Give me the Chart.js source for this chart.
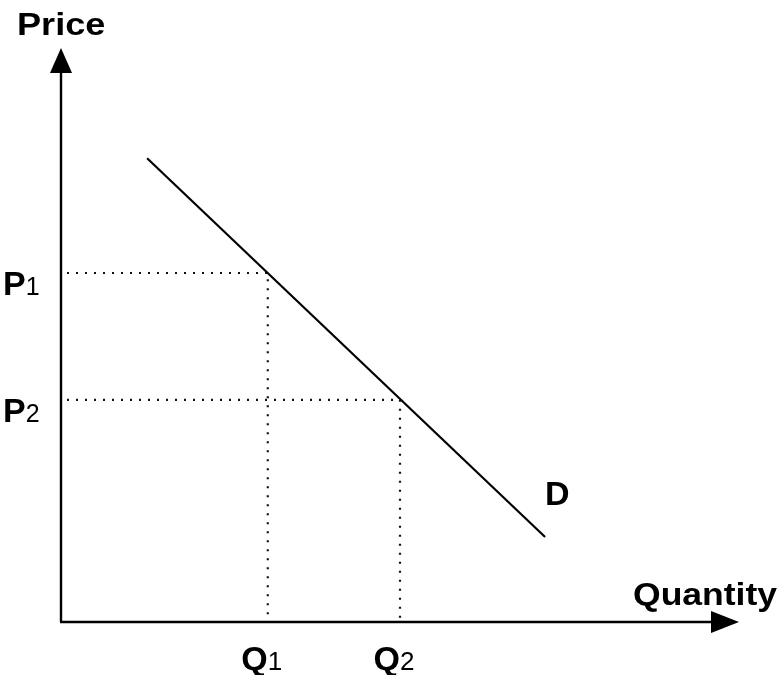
<!DOCTYPE html>
<html>
<head>
<meta charset="utf-8">
<script src="https://cdn.jsdelivr.net/npm/chart.js@4.4.0/dist/chart.umd.min.js"></script>
<style>
  body { margin: 0; background: #fff; }
  #wrap { width: 784px; height: 675px; }
</style>
</head>
<body>
<div id="wrap"><canvas id="demandChart" width="784" height="675"></canvas></div>
<script>
"use strict"

// demand curve end points (quantity, price)
const demandQ = [1.27, 7.14];
const demandP = [8.08, 1.48];

// the two price / quantity pairs on the curve
const qLevels = [3.05, 5.0];
const pLevels = [6.08, 3.87];
const qTickLabels = [["Q", "1"], ["Q", "2"]];
const pTickLabels = [["P", "1"], ["P", "2"]];

const xTitle = "Quantity";
const yTitle = "Price";
const curveLabel = "D";
const axisMax = 10;

const font = "'Liberation Sans', Arial, sans-serif";

// dotted guide lines from the axes to the curve
function guideSets() {
    let sets = [];
    for (let i = 0; i < qLevels.length; i++) {
        sets.push({
            data: [{ x: 0, y: pLevels[i] }, { x: qLevels[i], y: pLevels[i] }, { x: qLevels[i], y: 0 }],
            showLine: true,
            borderColor: "#111",
            borderWidth: 2.2,
            borderDash: [2, 7],
            borderDashOffset: 3,
            pointRadius: 0,
            tension: 0,
        });
    }
    return sets;
}

function drawText(ctx, txt, x, y, size, bold, sx) {
    ctx.save();
    ctx.translate(x, y);
    ctx.scale(sx || 1, 1);
    ctx.font = (bold ? "bold " : "") + size + "px " + font;
    ctx.fillStyle = "#000";
    ctx.textBaseline = "alphabetic";
    ctx.textAlign = "left";
    ctx.fillText(txt, 0, 0);
    let w = ctx.measureText(txt).width * (sx || 1);
    ctx.restore();
    return w;
}

const axesPlugin = {
    id: "axesPlugin",
    afterDraw(chart) {
        const ctx = chart.ctx;
        const xs = chart.scales.x, ys = chart.scales.y;
        const x0 = xs.getPixelForValue(0), y0 = ys.getPixelForValue(0);
        const xTip = xs.getPixelForValue(axisMax), yTip = ys.getPixelForValue(axisMax);

        ctx.save();
        ctx.strokeStyle = "#000";
        ctx.fillStyle = "#000";
        ctx.lineWidth = 2.4;
        // axis lines
        ctx.beginPath();
        ctx.moveTo(x0, y0);
        ctx.lineTo(x0, yTip + 25);
        ctx.moveTo(x0 - 1, y0);
        ctx.lineTo(xTip - 28, y0);
        ctx.stroke();
        // arrow heads
        ctx.beginPath();
        ctx.moveTo(x0, yTip);
        ctx.lineTo(x0 - 11, yTip + 25);
        ctx.lineTo(x0 + 11, yTip + 25);
        ctx.closePath();
        ctx.fill();
        ctx.beginPath();
        ctx.moveTo(xTip, y0);
        ctx.lineTo(xTip - 28, y0 - 11);
        ctx.lineTo(xTip - 28, y0 + 11);
        ctx.closePath();
        ctx.fill();
        ctx.restore();

        // axis titles
        drawText(ctx, yTitle, 17, 35, 32, true, 1.13);
        drawText(ctx, xTitle, 633, 605, 32, true, 1.11);

        // price labels
        for (let i = 0; i < pLevels.length; i++) {
            let py = ys.getPixelForValue(pLevels[i]);
            let w = drawText(ctx, pTickLabels[i][0], 3, py + 22, 34, true, 1);
            drawText(ctx, pTickLabels[i][1], 3 + w, py + 22, 25, false, 1);
        }
        // quantity labels
        for (let i = 0; i < qLevels.length; i++) {
            let qx = xs.getPixelForValue(qLevels[i]);
            ctx.save();
            ctx.font = "bold 34px " + font;
            let wq = ctx.measureText(qTickLabels[i][0]).width;
            ctx.font = "26px " + font;
            let ws = ctx.measureText(qTickLabels[i][1]).width;
            ctx.restore();
            let left = qx - 6 - (wq + ws) / 2;
            drawText(ctx, qTickLabels[i][0], left, y0 + 48, 34, true, 1);
            drawText(ctx, qTickLabels[i][1], left + wq, y0 + 48, 26, false, 1);
        }

        // curve label
        const ex = xs.getPixelForValue(demandQ[1]), ey = ys.getPixelForValue(demandP[1]);
        drawText(ctx, curveLabel, ex, ey - 32, 34, true, 1);
    }
};

const ctx = document.getElementById("demandChart").getContext("2d");

const config = {
    type: "scatter",
    data: {
        datasets: [{
            data: demandQ.map((q, i) => ({ x: q, y: demandP[i] })),
            showLine: true,
            borderColor: "#000",
            borderWidth: 2.2,
            pointRadius: 0,
        }].concat(guideSets()),
    },
    options: {
        responsive: false,
        animation: false,
        layout: { padding: { left: 61, right: 45, top: 48, bottom: 53 } },
        plugins: { legend: { display: false }, tooltip: { enabled: false } },
        scales: {
            x: { type: "linear", min: 0, max: axisMax, display: false },
            y: { type: "linear", min: 0, max: axisMax, display: false },
        },
    },
    plugins: [axesPlugin],
};

const demandChart = new Chart(ctx, config);
</script>
</body>
</html>
